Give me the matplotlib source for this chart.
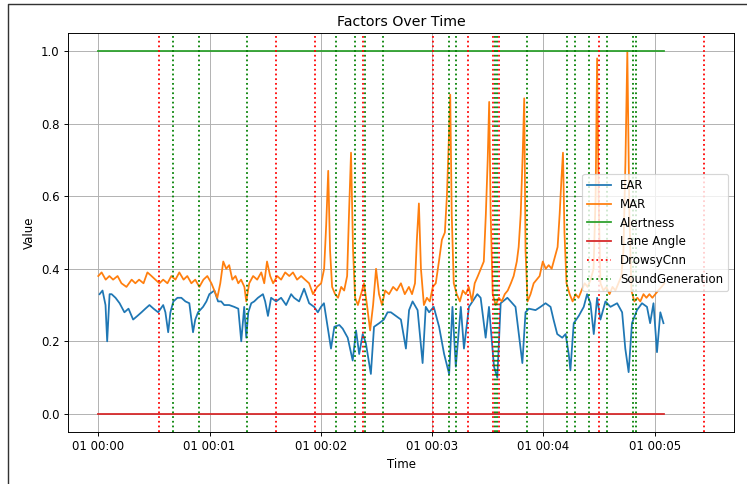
import numpy as np
import matplotlib
matplotlib.use('Agg')
import matplotlib.pyplot as plt
from matplotlib.lines import Line2D

# seconds since start / values
ear_t = [0.7, 2.3, 3.9, 4.8, 6.1, 7.2, 9.3, 11.5, 14.1, 16.3, 18.8, 21.1, 23.3, 25.4, 27.6, 29.8,
         32.3, 35.0, 36.2, 37.7, 38.9, 40.5, 42.7, 44.8, 47.0, 49.1, 51.1, 52.3, 53.8, 56.5, 58.3,
         59.9, 62.6, 64.6, 66.3, 67.9, 70.6, 73.3, 75.5, 77.1, 78.7, 79.8, 80.9, 82.5, 84.1, 86.1,
         88.8, 90.0, 91.5, 93.2, 95.9, 98.6, 101.3, 104.0, 105.6, 108.3, 111.0, 113.7, 116.4, 118.4,
         120.1, 121.7, 123.7, 125.5, 127.3, 130.0, 131.8, 134.5, 137.2, 139.0, 140.7, 142.6, 144.3,
         147.0, 148.7, 151.5, 154.0, 156.0, 157.8, 160.5, 163.2, 165.9, 167.6, 169.5, 172.2, 174.9,
         176.6, 178.4, 180.9, 183.8, 186.5, 189.2, 191.0, 192.8, 195.5, 197.2, 199.9, 201.8, 204.4,
         206.2, 208.9, 210.7, 213.4, 215.2, 217.0, 220.6, 222.4, 225.0, 226.8, 228.7, 230.4, 232.2,
         235.8, 238.5, 241.2, 243.9, 245.5, 247.5, 250.2, 252.0, 253.7, 254.6, 256.4, 259.1, 261.8,
         263.6, 265.4, 267.2, 269.0, 270.8, 273.5, 276.2, 279.8, 282.5, 284.2, 286.0, 287.8, 290.5,
         293.2, 295.9, 297.6, 299.4, 301.3, 303.1, 304.8]
ear_v = [0.33, 0.34, 0.30, 0.20, 0.33, 0.33, 0.32, 0.305, 0.28, 0.29, 0.26, 0.27, 0.28, 0.29, 0.30, 0.29,
         0.28, 0.30, 0.28, 0.225, 0.28, 0.31, 0.32, 0.32, 0.31, 0.305, 0.225, 0.26, 0.28, 0.295, 0.31,
         0.33, 0.34, 0.31, 0.31, 0.30, 0.30, 0.295, 0.29, 0.20, 0.295, 0.21, 0.28, 0.305, 0.31, 0.32,
         0.33, 0.31, 0.27, 0.32, 0.31, 0.32, 0.30, 0.33, 0.32, 0.31, 0.345, 0.305, 0.295, 0.28,
         0.295, 0.305, 0.24, 0.18, 0.24, 0.245, 0.235, 0.21, 0.147, 0.23, 0.165, 0.22, 0.195,
         0.11, 0.24, 0.25, 0.26, 0.28, 0.28, 0.27, 0.26, 0.18, 0.286, 0.31, 0.286, 0.14,
         0.295, 0.28, 0.295, 0.24, 0.165, 0.11, 0.295, 0.13, 0.295, 0.18, 0.295, 0.31, 0.33,
         0.32, 0.21, 0.295, 0.13, 0.10, 0.305, 0.32, 0.31, 0.295, 0.22, 0.14, 0.28, 0.29,
         0.286, 0.295, 0.305, 0.295, 0.26, 0.22, 0.21, 0.22, 0.165, 0.12, 0.25, 0.27, 0.295,
         0.33, 0.305, 0.22, 0.32, 0.26, 0.31, 0.295, 0.305, 0.28, 0.18, 0.115, 0.25, 0.286,
         0.305, 0.295, 0.25, 0.305, 0.17, 0.28, 0.25]

mar_t = [0.0, 1.8, 4.0, 6.0, 8.0, 10.4, 12.5, 15.2, 18.0, 20.0, 22.0, 24.4, 26.5, 28.7, 30.8, 33.0,
         35.0, 37.3, 39.4, 41.6, 43.7, 46.0, 48.0, 50.2, 52.3, 54.5, 56.7, 58.8, 61.0, 62.6, 64.2,
         65.8, 67.4, 69.0, 70.6, 72.3, 74.0, 75.5, 77.0, 78.8, 79.8, 81.4, 83.5, 85.7, 87.9, 89.5,
         91.0, 92.7, 94.3, 96.5, 98.6, 100.8, 103.0, 105.0, 107.2, 109.4, 111.5, 113.7, 115.8, 118.0,
         120.2, 121.8, 122.9, 124.0, 125.0, 126.1, 127.7, 129.3, 131.0, 132.6, 134.2, 135.2, 136.3,
         137.4, 138.5, 140.0, 141.7, 143.3, 144.9, 146.6, 148.2, 149.8, 151.4, 153.0, 154.7, 156.8,
         159.0, 161.0, 163.2, 165.3, 167.5, 169.2, 170.8, 171.8, 172.9, 174.0, 175.6, 177.2, 178.8,
         180.4, 182.0, 183.7, 185.3, 186.9, 188.0, 189.0, 189.8, 190.6, 191.7, 193.3, 195.0, 196.6,
         198.2, 199.8, 201.5, 203.0, 204.7, 206.3, 207.9, 209.0, 210.0, 210.8, 211.6, 212.7, 214.3,
         216.0, 217.6, 219.2, 220.8, 222.5, 224.0, 225.7, 226.7, 227.8, 228.9, 229.7, 230.4, 231.5,
         233.1, 234.8, 236.4, 238.0, 239.7, 241.3, 242.9, 244.5, 246.1, 247.7, 248.8, 249.8, 250.6,
         251.4, 252.5, 254.2, 255.8, 257.4, 259.0, 260.6, 262.3, 263.9, 265.5, 267.1, 268.2, 269.0,
         269.8, 270.8, 272.4, 274.0, 275.7, 277.3, 278.9, 280.5, 282.1, 283.2, 284.3, 285.3, 286.4,
         287.5, 289.1, 290.7, 292.3, 294.0, 295.6, 297.2, 298.8, 300.4, 302.0, 303.7, 305.3]
mar_v = [0.38, 0.39, 0.37, 0.38, 0.37, 0.38, 0.36, 0.35, 0.37, 0.36, 0.37, 0.36, 0.39, 0.38, 0.37, 0.36,
         0.37, 0.36, 0.38, 0.37, 0.39, 0.37, 0.38, 0.36, 0.37, 0.35, 0.37, 0.38, 0.36, 0.34, 0.32,
         0.36, 0.42, 0.40, 0.41, 0.37, 0.38, 0.36, 0.37, 0.35, 0.31, 0.36, 0.38, 0.37, 0.39, 0.36,
         0.42, 0.38, 0.36, 0.38, 0.37, 0.39, 0.38, 0.39, 0.37, 0.38, 0.37, 0.36, 0.33, 0.35,
         0.36, 0.40, 0.52, 0.67, 0.45, 0.35, 0.33, 0.32, 0.35, 0.34, 0.38, 0.55, 0.72,
         0.45, 0.32, 0.30, 0.33, 0.36, 0.30, 0.23, 0.30, 0.40, 0.33, 0.30, 0.34, 0.33,
         0.35, 0.34, 0.36, 0.33, 0.35, 0.33, 0.36, 0.48, 0.58, 0.40, 0.30, 0.32, 0.31,
         0.35, 0.36, 0.42, 0.48, 0.50, 0.60, 0.75, 0.88, 0.55, 0.36, 0.33, 0.31, 0.34,
         0.33, 0.35, 0.31, 0.36, 0.38, 0.40, 0.42, 0.55, 0.70, 0.86, 0.55, 0.33, 0.30,
         0.32, 0.31, 0.33, 0.34, 0.36, 0.38, 0.42, 0.46, 0.55, 0.72, 0.87, 0.45, 0.31,
         0.33, 0.36, 0.37, 0.38, 0.42, 0.40, 0.41, 0.40, 0.43, 0.46, 0.55, 0.65, 0.72,
         0.50, 0.36, 0.33, 0.31, 0.33, 0.32, 0.34, 0.36, 0.35, 0.37, 0.40, 0.60, 0.98,
         0.60, 0.36, 0.34, 0.35, 0.33, 0.35, 0.34, 0.36, 0.38, 0.45, 0.70, 1.00, 0.55,
         0.34, 0.31, 0.32, 0.31, 0.33, 0.32, 0.33, 0.32, 0.33, 0.34, 0.35, 0.36]

span_t = [0.0, 305.3]
alertness = [1.0, 1.0]
lane_angle = [0.0, 0.0]

drowsy_t = [32.8, 95.9, 117.1, 142.8, 180.3, 199.6, 212.7, 216.0, 269.9, 326.5]
sound_t = [40.1, 54.4, 80.1, 128.2, 138.2, 143.6, 153.3, 189.2, 193.1, 213.8, 214.9,
           231.3, 252.9, 257.1, 264.4, 274.3, 288.3, 289.9]

base = np.datetime64('2024-01-01T00:00:00')


def to_time(sec):
    return base + (np.array(sec) * 1000).astype('timedelta64[ms]')


fig = plt.figure(figsize=(747 / 85, 484 / 85), dpi=85)
ax = fig.add_axes([68 / 747, 1 - 432 / 484, (734 - 68) / 747, (432 - 33) / 484])

ax.plot(to_time(ear_t), ear_v, label='EAR')
ax.plot(to_time(mar_t), mar_v, label='MAR')
ax.plot(to_time(span_t), alertness, label='Alertness')
ax.plot(to_time(span_t), lane_angle, label='Lane Angle')

for i, t in enumerate(drowsy_t):
    ax.axvline(to_time(t), color='red', linestyle=':', label='DrowsyCnn' if i == 0 else None)
for i, t in enumerate(sound_t):
    ax.axvline(to_time(t), color='green', linestyle=':', label='SoundGeneration' if i == 0 else None)

ax.set_title('Factors Over Time')
ax.set_xlabel('Time')
ax.set_ylabel('Value')
ax.grid(True)
ax.legend(loc='center right')

# screenshot frame
fig.add_artist(Line2D([8 / 747, 8 / 747, 1.0], [0.0, 1 - 4 / 484, 1 - 4 / 484],
                      transform=fig.transFigure, color='#333333', lw=1.2))

fig.savefig('out.png', dpi=85)
